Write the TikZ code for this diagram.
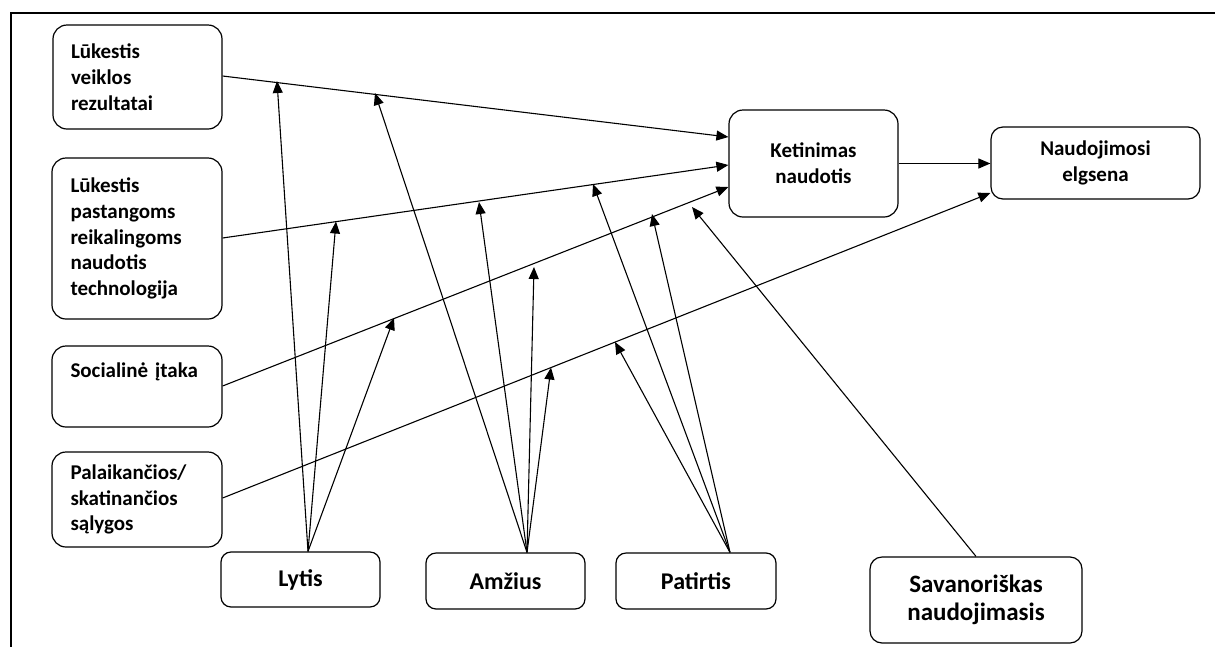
\documentclass[tikz,border=0pt]{standalone}
\usepackage{fontspec}
\setmainfont{Carlito}
\usetikzlibrary{arrows.meta,calc}
\begin{document}
\begin{tikzpicture}[x=1pt,y=-1pt,
  box/.style={draw, line width=1.2pt, inner ysep=0pt},
  factor/.style={box, rounded corners=14pt, align=left, inner xsep=18pt,
    text width=133pt, font=\fontsize{21}{25.7}\selectfont\bfseries},
  target/.style={box, rounded corners=14pt, align=center, inner xsep=4pt,
    font=\fontsize{21}{25.7}\selectfont\bfseries},
  moderator/.style={box, rounded corners=10pt, align=center, inner xsep=4pt,
    font=\fontsize{24}{28}\selectfont\bfseries},
  conn/.style={line width=1.1pt, -{Triangle[length=12pt,width=10pt]}},
  link/.style={line width=1.1pt, -{Triangle[length=12pt,width=10pt]}}
]
\useasboundingbox (0,0) rectangle (1215,646);

% frame
\draw[line width=2.3pt] (11,660) -- (11,13) -- (1230,13);

% determinants
\node[factor, minimum width=169pt, minimum height=104pt] (b1) at (137.5,77)
  {Lūkestis\\veiklos\\rezultatai};
\node[factor, minimum width=170pt, minimum height=161pt] (b2) at (137,238.5)
  {Lūkestis\\pastangoms\\reikalingoms\\naudotis\\technologija};
\node[factor, minimum width=170pt, minimum height=81pt] (b3) at (137,386.5)
  {Socialinė įtaka\\ \strut};
\node[factor, minimum width=170pt, minimum height=95pt] (b4) at (137,499.5)
  {Palaikančios/\\skatinančios\\sąlygos};

% intention and behaviour
\node[target, minimum width=169pt, minimum height=107pt] (ket) at (813.5,163.5)
  {Ketinimas\\naudotis};
\node[target, minimum width=209pt, minimum height=72pt, rounded corners=12pt] (naud) at (1095.5,163)
  {Naudojimosi\\elgsena};

% moderators
\node[moderator, minimum width=159pt, minimum height=55pt] (lyt) at (300.5,579.5) {Lytis};
\node[moderator, minimum width=159pt, minimum height=56pt] (amz) at (505.5,581) {Amžius};
\node[moderator, minimum width=160pt, minimum height=56pt] (pat) at (696,581) {Patirtis};
\node[moderator, minimum width=212pt, minimum height=86pt, rounded corners=12pt,
  font=\fontsize{25}{28}\selectfont\bfseries] (sav) at (976,600)
  {Savanoriškas\\naudojimasis};

% main paths
\draw[conn] ($(b1.east)+(0,-1)$) -- ($(ket.west)+(0,-26.5)$);
\draw[conn] ($(b2.east)+(0,-0.5)$) -- ($(ket.west)+(0,1.5)$);
\draw[conn] ($(b3.east)+(0,-0.5)$) -- ($(ket.west)+(0,23.5)$);
\draw[conn] ($(b4.east)+(0,-1.5)$) -- ($(naud.west)+(0,30)$);
\draw[conn] (ket.east) -- (ket.east -| naud.west);

% points where the moderating effects meet the paths
\coordinate (tL1) at (277,81);
\coordinate (tL2) at (336,221.5);
\coordinate (tL3) at (394,318);
\coordinate (tA1) at (375,93);
\coordinate (tA2) at (479,202);
\coordinate (tA3) at (534,267);
\coordinate (tA4) at (551,367.5);
\coordinate (tP1) at (593,184);
\coordinate (tP2) at (652,214);
\coordinate (tP3) at (615,342);
\coordinate (tS) at (692,207);

% moderating effects
\coordinate (oL) at ($(lyt.north)+(7.5,0)$);
\coordinate (oA) at ($(amz.north)+(21.5,0)$);
\coordinate (oP) at ($(pat.north)+(34,0)$);
\foreach \t in {tL1,tL2,tL3} \draw[link] (oL) -- (\t);
\foreach \t in {tA1,tA2,tA3,tA4} \draw[link] (oA) -- (\t);
\foreach \t in {tP1,tP2,tP3} \draw[link] (oP) -- (\t);
\draw[link] (sav.north) -- (tS);
\end{tikzpicture}
\end{document}
